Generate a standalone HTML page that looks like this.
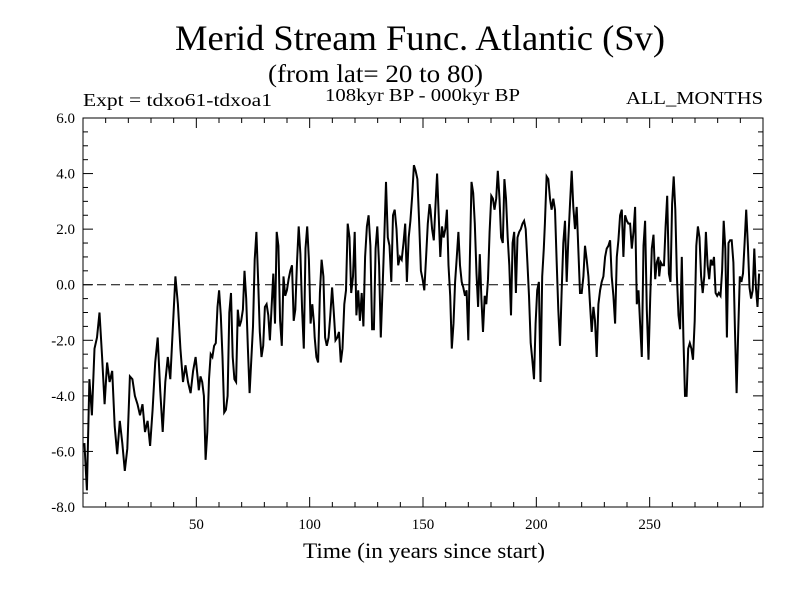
<!DOCTYPE html>
<html><head><meta charset="utf-8"><style>
body{margin:0;background:#fff}
svg text{font-family:"Liberation Serif",serif;fill:#000}
</style></head><body>
<svg id="chart" width="800" height="600" viewBox="0 0 800 600" xmlns="http://www.w3.org/2000/svg">
<rect width="800" height="600" fill="#fff"/>
<text x="175" y="50" font-size="36" textLength="490" lengthAdjust="spacingAndGlyphs">Merid Stream Func. Atlantic (Sv)</text>
<text x="268" y="82" font-size="25" textLength="215" lengthAdjust="spacingAndGlyphs">(from lat= 20 to 80)</text>
<text x="83" y="106" font-size="18" textLength="189" lengthAdjust="spacingAndGlyphs">Expt = tdxo61-tdxoa1</text>
<text x="325" y="101" font-size="18" textLength="195" lengthAdjust="spacingAndGlyphs">108kyr BP - 000kyr BP</text>
<text x="626" y="104" font-size="18" textLength="137" lengthAdjust="spacingAndGlyphs">ALL_MONTHS</text>
<text x="303" y="558" font-size="22" textLength="242" lengthAdjust="spacingAndGlyphs">Time (in years since start)</text>
<g id="axes"></g>
<g id="plot"></g>
</svg>
<script>
const segStart=[0.6,51.1,102.2,153.3,203.8,254.2];
const segEnd=[50.8,101.9,152.9,203.3,253.9,298.3];
const seg1=[-5.7,-7.4,-3.4,-4.7,-2.3,-1.9,-1.0,-2.6,-4.3,-2.8,-3.5,-3.1,-5.1,-6.1,-4.9,-5.7,-6.7,-5.9,-3.3,-3.4,-4.0,-4.3,-4.7,-4.3,-5.3,-4.9,-5.8,-4.5,-2.8,-1.9,-3.8,-5.3,-3.5,-2.6,-3.4,-1.5,0.3,-0.7,-2.3,-3.5,-2.9,-3.5,-3.9,-3.1,-2.6,-3.5];
const seg2=[-3.8,-3.3,-3.5,-4.0,-6.3,-5.3,-3.4,-2.5,-2.6,-2.2,-2.1,-0.8,-0.2,-1.1,-2.6,-4.6,-4.5,-4.0,-1.0,-0.3,-2.6,-3.4,-3.5,-0.9,-1.5,-1.3,-0.9,0.5,-0.5,-2.3,-3.9,-2.7,-1.5,0.9,1.9,0.2,-1.7,-2.6,-2.2,-0.8,-0.7,-1.1,-2.0,-0.8,0.4,-1.4,1.9,1.4,-1.3,-2.2,0.3,-0.4,-0.2,0.2,0.5,0.7,-1.3,-0.9,0.8,2.1,1.1,-0.9,-2.3,1.3,2.1,0.9,-1.4,-0.7,-1.4];
const seg3=[-1.9,-2.6,-2.8,-0.3,0.9,0.3,-1.9,-2.2,-1.9,-1.1,-0.1,-1.0,-2.0,-1.9,-1.7,-2.8,-2.3,-0.7,-0.2,2.2,1.7,-0.3,0.3,1.9,-1.1,-0.2,-1.3,-0.3,-1.5,1.0,2.1,2.5,1.4,-1.6,-1.6,1.3,2.1,0.7,-1.9,-0.1,1.7,3.7,1.7,1.4,0.1,2.5,2.7,2.0,0.7,1.0,0.9,1.5,2.2,0.1,1.7,2.3,3.2,4.3,4.1,3.8,2.3,0.5,0.2,-0.2,1.0,2.2,2.9];
const seg4=[2.7,2.0,1.6,2.8,4.0,2.5,1.0,2.1,1.7,2.0,2.7,0.7,-0.4,-2.3,-1.4,0.1,1.0,1.9,0.7,0.1,-0.1,-0.4,-0.2,-2.0,1.0,3.7,3.3,2.2,0.4,-0.8,1.1,-0.5,-1.7,-0.4,-0.7,0.2,1.9,3.2,3.1,2.7,3.1,4.1,3.1,1.7,1.5,3.8,3.1,1.7,0.7,-1.1,1.5,1.9,-0.3,1.7,1.9,2.0,2.2,2.3,2.0,0.8,-0.4,-2.1,-2.7,-3.4,-1.4,-0.2,0.1,-3.5,0.3,1.3];
const seg5=[2.2,3.9,3.8,3.1,2.7,3.1,2.7,0.9,-0.9,-2.2,-0.3,1.5,2.3,0.1,1.6,2.9,4.1,2.8,2.0,2.8,1.3,-0.3,-0.3,0.3,1.4,0.9,0.3,-0.7,-1.7,-0.8,-1.3,-2.6,-0.7,-0.2,0.1,0.3,1.0,1.3,1.4,1.6,0.3,-0.4,-1.4,1.0,1.6,2.5,2.7,1.0,2.5,2.3,2.2,2.2,1.3,1.9,2.8,-0.7,-0.2,-1.4,-2.6,1.4,2.3,-0.9,-2.7,-0.5,1.3,1.8,0.2,0.8,1.0];
const seg6=[0.3,0.8,0.7,0.7,2.1,3.2,0.4,0.1,2.9,3.9,2.7,0.3,-1.1,-1.6,1.0,-1.9,-4.0,-4.0,-2.3,-2.1,-2.3,-2.7,-1.3,1.4,2.1,1.7,0.3,-0.3,0.3,1.9,0.7,0.2,0.9,0.7,1.0,-0.3,-0.4,-0.3,-0.4,0.5,2.3,1.3,-1.9,1.5,1.6,1.6,0.8,-1.7,-3.9,-1.7,0.3,0.1,0.4,1.5,2.7,1.4,-0.1,-0.5,-0.2,1.3,-0.1,-0.8,0.4];
const segValues=[seg1,seg2,seg3,seg4,seg5,seg6];
const xTicks=[50,100,150,200,250];
const yTicks=[6,4,2,0,-2,-4,-6,-8];

const X0=83,X1=763,Y0=118,Y1=507;
const xMin=0,xMax=300,yMin=-8,yMax=6;
const xs=v=>X0+(v-xMin)/(xMax-xMin)*(X1-X0);
const ys=v=>Y1-(v-yMin)/(yMax-yMin)*(Y1-Y0);
const NS="http://www.w3.org/2000/svg";
const axes=document.getElementById('axes'),plot=document.getElementById('plot');
function mk(tag,attrs,parent){const e=document.createElementNS(NS,tag);for(const k in attrs)e.setAttribute(k,attrs[k]);parent.appendChild(e);return e;}

const frame=mk('rect',{x:X0,y:Y0,width:X1-X0,height:Y1-Y0,fill:'none',stroke:'#000','stroke-width':1},axes);



const zero=mk('line',{x1:X0,x2:X1,y1:ys(0),y2:ys(0),stroke:'#000','stroke-width':1,'stroke-dasharray':'9,5'},axes);



for(let v=yMin;v<=yMax+1e-9;v+=0.5){
  const maj=Math.abs(v-Math.round(v/2)*2)<1e-9;const L=maj?10:5;
  const t1=mk('line',{x1:X0,x2:X0+L,y1:ys(v),y2:ys(v),stroke:'#000'},axes);
  
  
  const t2=mk('line',{x1:X1,x2:X1-L,y1:ys(v),y2:ys(v),stroke:'#000'},axes);
  
  
}
yTicks.forEach(v=>{
  const t=mk('text',{x:X0-8,y:ys(v)+5,'font-size':15,'text-anchor':'end'},axes);
  t.textContent=v.toFixed(1);
  
  
});
for(let v=10;v<xMax;v+=10){
  const maj=v%50===0;const L=maj?10:5;
  const a=mk('line',{x1:xs(v),x2:xs(v),y1:Y1,y2:Y1-L,stroke:'#000'},axes);
  
  
  const b=mk('line',{x1:xs(v),x2:xs(v),y1:Y0,y2:Y0+L,stroke:'#000'},axes);
  
  
}
xTicks.forEach(v=>{
  const t=mk('text',{x:xs(v),y:Y1+22,'font-size':15,'text-anchor':'middle'},axes);
  t.textContent=v;
  
  
});

let pts=[];
segValues.forEach((vals,i)=>{
  const s=segStart[i],e=segEnd[i],n=vals.length;
  vals.forEach((v,j)=>{const yr=s+(e-s)*j/(n-1);pts.push(xs(yr).toFixed(1)+','+ys(v).toFixed(1));});
});
const line=mk('polyline',{points:pts.join(' '),fill:'none',stroke:'#000','stroke-width':2,'stroke-linejoin':'miter'},plot);


</script>
</body></html>
